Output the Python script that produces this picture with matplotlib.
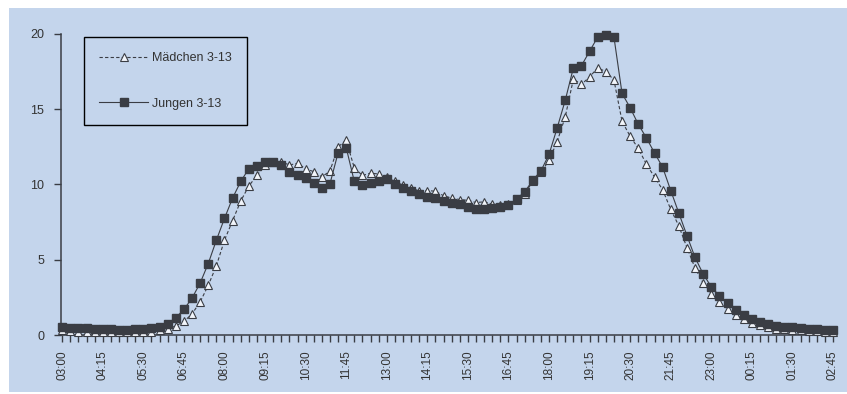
import matplotlib.pyplot as plt
from matplotlib.patches import Rectangle

plt.rcParams['font.family'] = ['Liberation Sans', 'DejaVu Sans']

# Zeitachse: 03:00 bis 02:45 in 15-Minuten-Schritten
times = [f"{(3 + (i * 15) // 60) % 24:02d}:{(i * 15) % 60:02d}" for i in range(96)]

maedchen = [0.30, 0.25, 0.20, 0.20, 0.20, 0.20, 0.20, 0.20, 0.18, 0.20,
            0.20, 0.22, 0.30, 0.40, 0.60, 0.90, 1.40, 2.20, 3.30, 4.60,
            6.30, 7.60, 8.90, 9.90, 10.6, 11.3, 11.5, 11.5, 11.3, 11.4,
            11.05, 10.85, 10.5, 10.9, 12.5, 12.95, 11.1, 10.6, 10.75, 10.7,
            10.5, 10.2, 9.95, 9.80, 9.55, 9.60, 9.55, 9.25, 9.10, 9.00,
            8.95, 8.80, 8.85, 8.70, 8.65, 8.70, 9.00, 9.40, 10.2, 10.8,
            11.6, 12.85, 14.5, 17.0, 16.65, 17.15, 17.75, 17.5, 16.95, 14.2,
            13.2, 12.4, 11.35, 10.5, 9.65, 8.35, 7.25, 5.80, 4.45, 3.45,
            2.75, 2.20, 1.75, 1.35, 1.05, 0.82, 0.65, 0.50, 0.42, 0.38,
            0.33, 0.30, 0.28, 0.25, 0.23, 0.22]

jungen = [0.55, 0.45, 0.45, 0.45, 0.42, 0.40, 0.40, 0.33, 0.30, 0.40,
          0.42, 0.45, 0.55, 0.75, 1.15, 1.70, 2.45, 3.45, 4.75, 6.30,
          7.75, 9.10, 10.2, 11.05, 11.25, 11.5, 11.5, 11.3, 10.8, 10.65,
          10.4, 10.1, 9.75, 10.05, 12.1, 12.45, 10.2, 9.95, 10.1, 10.25,
          10.35, 10.05, 9.80, 9.60, 9.40, 9.20, 9.10, 8.90, 8.80, 8.70,
          8.50, 8.40, 8.40, 8.45, 8.50, 8.65, 9.05, 9.50, 10.3, 10.9,
          12.0, 13.75, 15.6, 17.75, 17.9, 18.85, 19.8, 19.95, 19.8, 16.05,
          15.1, 14.0, 13.1, 12.1, 11.15, 9.60, 8.10, 6.60, 5.15, 4.05,
          3.20, 2.60, 2.10, 1.65, 1.30, 1.05, 0.85, 0.70, 0.60, 0.55,
          0.50, 0.45, 0.40, 0.40, 0.35, 0.33]

bg = '#c4d5ec'
dark = '#3a3d44'

fig = plt.figure(figsize=(8.47, 3.94), dpi=100, facecolor='white')
fig.add_artist(Rectangle((9 / 847, 2 / 394), 1, 384 / 394,
                         transform=fig.transFigure, facecolor=bg,
                         edgecolor='none', zorder=-10))
ax = fig.add_axes([61 / 847, 59 / 394, 772 / 847, 301 / 394])
ax.set_facecolor(bg)

x = list(range(len(times)))
ax.plot(x, maedchen, linestyle=(0, (3, 2)), color=dark, linewidth=0.8,
        marker='^', markersize=6, markerfacecolor='#f2f5fa',
        markeredgecolor=dark, markeredgewidth=0.8,
        label='Mädchen 3-13', clip_on=False, zorder=3)
ax.plot(x, jungen, linestyle='-', color=dark, linewidth=0.8,
        marker='s', markersize=5.5, markerfacecolor=dark,
        markeredgecolor=dark, label='Jungen 3-13', clip_on=False, zorder=4)

ax.set_xlim(-0.15, 95)
ax.set_ylim(0, 20)
ax.set_yticks([0, 5, 10, 15, 20])
ax.set_xticks(x)
ax.set_xticklabels([t if i % 5 == 0 else '' for i, t in enumerate(times)],
                   rotation=90)

for s in ['top', 'right']:
    ax.spines[s].set_visible(False)
for s in ['left', 'bottom']:
    ax.spines[s].set_color(dark)
    ax.spines[s].set_linewidth(1.1)

ax.tick_params(axis='y', direction='out', length=5, width=1, color=dark,
               labelsize=9, labelcolor='#333333', pad=7)
ax.tick_params(axis='x', direction='out', length=5, width=1, color=dark,
               labelsize=8.5, labelcolor='#333333', pad=6)

leg = ax.legend(loc='upper left', bbox_to_anchor=(0.03, 0.99),
                borderaxespad=0, fontsize=9, labelspacing=2.7,
                handlelength=3.9, handletextpad=0.35, borderpad=1.2,
                fancybox=False, framealpha=1, facecolor=bg,
                edgecolor='black', labelcolor='#333333')
leg.get_frame().set_linewidth(1)

fig.savefig('out.png', dpi=100, facecolor=fig.get_facecolor())
